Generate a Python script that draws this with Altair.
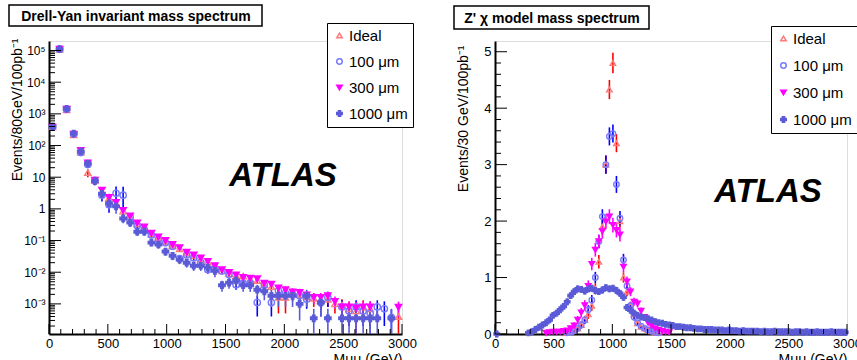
import altair as alt
import pandas as pd

FONT = "Liberation Sans"

SERIES = ["Ideal", "100 \u03bcm", "300 \u03bcm", "1000 \u03bcm"]
MARKER_SHAPE = ["triangle-up", "circle", "triangle-down", "cross"]
MARKER_STROKE = ["#ff7a7a", "#7a7aff", "#ff00ff", "#5b5bd8"]
MARKER_FILL = ["transparent", "transparent", "#ff00ff", "#5b5bd8"]
ERR_COLOR = ["#ff0000", "#0000ff", "#ff00ff", "#5b5bd8"]

# ---------------- Left panel: Drell-Yan (bin centres, GeV) ----------------
dy_mass = list(range(30, 3000, 60))
dy_ideal = [390, 1.1e5, 1350, 220, 62, 14, 8, 3.5, 2.2, 1.5,
            0.85, 0.55, 0.34, 0.25, 0.16, 0.12, 0.095, 0.07, 0.055, 0.04,
            0.033, 0.026, 0.021, 0.015, 0.011, 0.009, 0.0078, 0.0075, 0.006, 0.0055,
            0.004, 0.0035, 0.0016, 0.0016, 0.0022, 0.002, 0.0017, 0.0015, 0.0013, 0.0014,
            0.001, 0.0009, 0.0007, 0.0006, 0.0008, 0.0007, None, None, None, 0.0004]
dy_ideal_err = [20, 300, 40, 15, 8, 4, 2, 1.0, 0.7, 0.5,
                0.2, 0.12, 0.07, 0.05, 0.03, 0.02, 0.015, 0.01, 0.008, 0.006,
                0.005, 0.004, 0.003, 0.0025, 0.002, 0.0017, 0.0015, 0.0015, 0.0013, 0.0012,
                0.001, 0.0009, 0.0011, 0.0011, 0.0008, 0.0008, 0.0007, 0.0007, 0.0006, 0.0006,
                0.0005, 0.0005, 0.0005, 0.0005, 0.0005, 0.0005, None, None, None, 0.0004]
dy_100 = [400, 1.1e5, 1400, 230, 60, 25, 8, 2.7, 1.35, 3.1,
          2.7, 0.55, 0.3, 0.22, 0.15, 0.11, 0.085, 0.065, 0.027, 0.035,
          0.028, 0.02, 0.012, 0.013, 0.011, 0.0085, 0.004, 0.0045, 0.0045, 0.0011,
          0.004, 0.0011, 0.0026, 0.0022, 0.002, 0.0018, 0.0014, None, 0.0011, 0.0016,
          None, 0.0008, 0.0006, 0.0008, 0.0006, 0.0005, 0.0008, 0.0007, 0.00037, None]
dy_100_err = [20, 300, 40, 15, 8, 4, 2, 1.0, 0.6, 2.0,
              2.3, 0.12, 0.07, 0.05, 0.03, 0.02, 0.015, 0.01, 0.006, 0.006,
              0.005, 0.004, 0.003, 0.003, 0.0025, 0.002, 0.0012, 0.0013, 0.0013, 0.0007,
              0.0012, 0.0007, 0.0009, 0.0009, 0.0008, 0.0008, 0.0007, None, 0.0007, 0.0008,
              None, 0.0005, 0.0004, 0.0005, 0.0004, 0.0004, 0.0005, 0.0005, 0.0003, None]
dy_300 = [380, 1.1e5, 1400, 230, 70, 28, 8, 3.9, 2.3, 1.6,
          0.9, 0.6, 0.36, 0.27, 0.17, 0.13, 0.1, 0.075, 0.06, 0.043,
          0.035, 0.028, 0.022, 0.016, 0.012, 0.0098, 0.0082, 0.0068, 0.0065, 0.0062,
          0.0045, 0.0042, 0.0032, 0.0028, 0.0024, 0.0023, 0.0019, 0.0016, 0.0016, 0.0018,
          0.0012, 0.0008, 0.0008, 0.00075, 0.0008, 0.0008, None, None, None, 0.00078]
dy_300_err = [20, 300, 40, 15, 8, 4, 2, 1.0, 0.7, 0.5,
              0.2, 0.12, 0.07, 0.05, 0.03, 0.02, 0.015, 0.01, 0.008, 0.006,
              0.005, 0.004, 0.003, 0.0025, 0.002, 0.0017, 0.0015, 0.0013, 0.0013, 0.0012,
              0.001, 0.001, 0.0008, 0.0008, 0.0007, 0.0007, 0.0006, 0.0006, 0.0006, 0.0006,
              0.0005, 0.0004, 0.0004, 0.0004, 0.0004, 0.0004, None, None, None, 0.0004]
dy_1000 = [390, 1.1e5, 1450, 240, 65, 27, 7.5, 3.0, 1.5, 1.2,
           0.5, 0.37, 0.19, 0.19, 0.086, 0.075, 0.045, 0.033, 0.025, 0.02,
           0.016, 0.016, 0.014, 0.011, 0.0039, 0.0047, 0.0055, 0.0039, 0.0039, 0.0028,
           0.0025, 0.0018, 0.0018, 0.0018, 0.0018, 0.001, 0.0018, 0.00035, 0.0011, 0.00035,
           None, 0.00035, 0.00035, 0.00035, 0.00035, 0.00035, 0.00035, None, 0.00035, None]
dy_1000_err = [20, 300, 40, 15, 8, 4, 2, 1.0, 0.6, 0.5,
               0.15, 0.1, 0.05, 0.05, 0.02, 0.02, 0.012, 0.009, 0.007, 0.006,
               0.005, 0.005, 0.004, 0.004, 0.0015, 0.0017, 0.0018, 0.0015, 0.0015, 0.0012,
               0.0012, 0.001, 0.001, 0.001, 0.001, 0.0007, 0.001, 0.00035, 0.0007, 0.00035,
               None, 0.00035, 0.00035, 0.00035, 0.00035, 0.00035, 0.00035, None, 0.00035, None]

dy_ytick_values = [1e-3, 1e-2, 1e-1, 1, 10, 100, 1e3, 1e4, 1e5]
dy_ytick_labels = ["10\u207b\u00b3", "10\u207b\u00b2", "10\u207b\u00b9", "1", "10",
                   "10\u00b2", "10\u00b3", "10\u2074", "10\u2075"]
mass_ticks = [0, 500, 1000, 1500, 2000, 2500, 3000]

# ---------------- Right panel: Z' chi model ----------------
zp_mass_ideal = list(range(615, 1396, 30))
zp_ideal = [0.02, 0.04, 0.06, 0.1, 0.16, 0.25, 0.35, 0.5, 0.8, 1.28,
            1.9, 3.0, 4.33, 4.8, 3.38, 2.0, 1.0, 0.75, 0.5, 0.35,
            0.19, 0.13, 0.1, 0.07, 0.05, 0.03, 0.02]
zp_ideal_err = [0.02, 0.03, 0.04, 0.05, 0.06, 0.07, 0.08, 0.09, 0.1, 0.12,
                0.14, 0.16, 0.17, 0.18, 0.16, 0.12, 0.09, 0.08, 0.07, 0.06,
                0.04, 0.04, 0.03, 0.03, 0.02, 0.02, 0.02]
zp_mass_100 = list(range(615, 1396, 30))
zp_100 = [0.02, 0.03, 0.06, 0.1, 0.16, 0.25, 0.43, 0.6, 1.0, 1.64,
          2.08, 3.0, 3.5, 3.55, 2.65, 2.05, 1.31, 0.85, 0.5, 0.3,
          0.2, 0.14, 0.1, 0.07, 0.05, 0.03, 0.02]
zp_100_err = [0.02, 0.03, 0.04, 0.05, 0.06, 0.07, 0.08, 0.09, 0.1, 0.12,
              0.13, 0.16, 0.16, 0.16, 0.15, 0.13, 0.11, 0.09, 0.07, 0.06,
              0.05, 0.04, 0.03, 0.03, 0.02, 0.02, 0.02]
zp_mass_300 = list(range(435, 1486, 30))
zp_300 = [0.02, 0.03, 0.04, 0.04, 0.04, 0.05, 0.06, 0.1, 0.15, 0.25,
          0.38, 0.51, 0.85, 1.24, 1.49, 1.64, 1.82, 1.99, 2.08, 1.93,
          1.84, 1.76, 1.19, 0.93, 0.75, 0.57, 0.54, 0.41, 0.3, 0.2,
          0.14, 0.1, 0.07, 0.05, 0.04, 0.03]
zp_300_err = [0.02, 0.02, 0.03, 0.03, 0.03, 0.03, 0.04, 0.05, 0.06, 0.07,
              0.08, 0.09, 0.1, 0.11, 0.12, 0.12, 0.13, 0.13, 0.13, 0.13,
              0.13, 0.12, 0.1, 0.09, 0.08, 0.07, 0.07, 0.06, 0.05, 0.04,
              0.04, 0.03, 0.03, 0.02, 0.02, 0.02]
zp_mass_1000 = [15] + list(range(285, 3000, 30))
zp_1000 = [0.0,
           0.02, 0.04, 0.08, 0.12, 0.16, 0.2, 0.25, 0.33, 0.37, 0.43,
           0.49, 0.57, 0.68, 0.75, 0.8, 0.79, 0.76, 0.8, 0.81, 0.77,
           0.75, 0.78, 0.82, 0.8, 0.81, 0.77, 0.72, 0.65, 0.47, 0.42,
           0.37, 0.33, 0.3, 0.29, 0.27, 0.25, 0.22, 0.2, 0.19, 0.17,
           0.16, 0.15, 0.13, 0.13, 0.12, 0.11, 0.11, 0.1, 0.09, 0.09,
           0.08, 0.08, 0.08, 0.07, 0.07, 0.07, 0.06, 0.07, 0.06, 0.06,
           0.05, 0.06, 0.05, 0.05, 0.05, 0.05, 0.04, 0.05, 0.04, 0.04,
           0.05, 0.04, 0.04, 0.04, 0.04, 0.03, 0.04, 0.04, 0.03, 0.04,
           0.03, 0.03, 0.04, 0.03, 0.03, 0.03, 0.04, 0.03, 0.03, 0.03,
           0.03]
zp_1000_err = [0.0,
               0.02, 0.02, 0.03, 0.03, 0.04, 0.04, 0.04, 0.05, 0.05, 0.05,
               0.05, 0.06, 0.06, 0.06, 0.06, 0.06, 0.06, 0.06, 0.06, 0.06,
               0.06, 0.06, 0.06, 0.06, 0.06, 0.06, 0.06, 0.06, 0.05, 0.05,
               0.05, 0.05, 0.04, 0.04, 0.04, 0.04, 0.04, 0.04, 0.03, 0.03,
               0.03, 0.03, 0.03, 0.03, 0.03, 0.03, 0.03, 0.03, 0.03, 0.03,
               0.02, 0.02, 0.02, 0.02, 0.02, 0.02, 0.02, 0.02, 0.02, 0.02,
               0.02, 0.02, 0.02, 0.02, 0.02, 0.02, 0.02, 0.02, 0.02, 0.02,
               0.02, 0.02, 0.02, 0.02, 0.02, 0.02, 0.02, 0.02, 0.02, 0.02,
               0.02, 0.02, 0.02, 0.02, 0.02, 0.02, 0.02, 0.02, 0.02, 0.02,
               0.02]
zp_ytick_values = [0, 1, 2, 3, 4, 5]


def long_df(masses, values, errors, floor):
    rows = []
    for i, (s, ms, vs, es) in enumerate(zip(SERIES, masses, values, errors)):
        for m, v, e in zip(ms, vs, es):
            if v is None:
                continue
            e = e or 0
            rows.append({"series": s, "ord": i, "mass": m, "val": v,
                         "lo": max(v - e, floor), "hi": v + e})
    return pd.DataFrame(rows)


def make_legend(lx, ly, pad, rowpad):
    return alt.Legend(title=None, orient="none", legendX=lx, legendY=ly,
                      strokeColor="black", fillColor="white", padding=pad,
                      rowPadding=rowpad, labelFont=FONT, labelFontSize=15,
                      labelColor="black", labelOffset=2, symbolSize=30,
                      symbolStrokeWidth=1.5, cornerRadius=0)


def panel(df, W, H, xscale, yscale, xaxis, yaxis, legend, psize,
          ymaj, ymin, xmaj, xmin, title_text, box, title_pos, atlas_pos):
    base = alt.Chart(df)
    errs = []
    for s, c in zip(SERIES, ERR_COLOR):
        errs.append(base.transform_filter(alt.datum.series == s).mark_rule(
            strokeWidth=1.6, color=c).encode(
            x=alt.X("mass:Q", scale=xscale, axis=xaxis),
            y=alt.Y("lo:Q", scale=yscale, axis=yaxis),
            y2="hi:Q"))
    pts = base.mark_point(size=psize, strokeWidth=1.4, opacity=1).encode(
        x=alt.X("mass:Q", scale=xscale, axis=xaxis),
        y=alt.Y("val:Q", scale=yscale, axis=yaxis),
        shape=alt.Shape("series:N", scale=alt.Scale(domain=SERIES, range=MARKER_SHAPE), legend=legend),
        stroke=alt.Stroke("series:N", scale=alt.Scale(domain=SERIES, range=MARKER_STROKE), legend=legend),
        fill=alt.Fill("series:N", scale=alt.Scale(domain=SERIES, range=MARKER_FILL), legend=legend),
        order=alt.Order("ord:Q"),
    )

    def yt(vals, ln):
        return alt.Chart(pd.DataFrame({"v": vals})).mark_rule(color="black", strokeWidth=1).encode(
            y=alt.Y("v:Q", scale=yscale, axis=yaxis), x=alt.value(0), x2=alt.value(ln))

    def xt(vals, ln):
        return alt.Chart(pd.DataFrame({"v": vals})).mark_rule(color="black", strokeWidth=1).encode(
            x=alt.X("v:Q", scale=xscale, axis=xaxis), y=alt.value(H), y2=alt.value(H - ln))

    tdf = pd.DataFrame({"t": [title_text]})
    rect = alt.Chart(tdf).mark_rect(fill="white", stroke="black", strokeWidth=1.5).encode(
        x=alt.value(box[0]), x2=alt.value(box[1]), y=alt.value(box[2]), y2=alt.value(box[3]))
    ttxt = alt.Chart(tdf).mark_text(font=FONT, fontSize=14, fontWeight="bold", color="black",
                                    align="center", baseline="alphabetic").encode(
        x=alt.value(title_pos[0]), y=alt.value(title_pos[1]), text="t:N")
    adf = pd.DataFrame({"t": ["ATLAS"]})
    atlas = alt.Chart(adf).mark_text(font=FONT, fontSize=33, fontWeight="bold", fontStyle="italic",
                                     color="black", align="center", baseline="alphabetic").encode(
        x=alt.value(atlas_pos[0]), y=alt.value(atlas_pos[1]), text="t:N")

    return alt.layer(*errs, pts, yt(ymaj, 12), yt(ymin, 6), xt(xmaj, 10), xt(xmin, 5),
                     rect, ttxt, atlas).properties(width=W, height=H)


H = 293
LOG_MIN, LOG_MAX = 1.12e-4, 2.0e5

dy_df = long_df([dy_mass] * 4, [dy_ideal, dy_100, dy_300, dy_1000],
                [dy_ideal_err, dy_100_err, dy_300_err, dy_1000_err], LOG_MIN * 1.02)
zp_df = long_df([zp_mass_ideal, zp_mass_100, zp_mass_300, zp_mass_1000],
                [zp_ideal, zp_100, zp_300, zp_1000],
                [zp_ideal_err, zp_100_err, zp_300_err, zp_1000_err], 0)

label_expr = " : ".join("datum.value == %r ? '%s'" % (v, l)
                        for v, l in zip(dy_ytick_values, dy_ytick_labels)) + " : ''"

xaxis_common = dict(values=mass_ticks, format="d", ticks=False, tickSize=0, labelPadding=3,
                    labelFont=FONT, labelFontSize=13, labelColor="black", labelFlush=False,
                    title="M\u03bc\u03bc  (GeV)", titleAnchor="end", titleFont=FONT,
                    titleFontSize=14, titleFontWeight="normal", titleColor="black",
                    titlePadding=2, domainColor="black", domainWidth=2, grid=False)

dy_yaxis = alt.Axis(values=dy_ytick_values, labelExpr=label_expr, ticks=False, tickSize=0,
                    labelPadding=4, labelFont=FONT, labelFontSize=12, labelColor="black",
                    title="Events/80GeV/100pb\u207b\u00b9", titleFont=FONT, titleFontSize=14,
                    titleFontWeight="normal", titleColor="black", titleAngle=270,
                    titleX=-32, titleY=-3, titleAlign="right", titleBaseline="middle",
                    domainColor="black", domainWidth=2, grid=False)
zp_yaxis = alt.Axis(values=zp_ytick_values, ticks=False, tickSize=0,
                    labelPadding=4, labelFont=FONT, labelFontSize=13, labelColor="black",
                    title="Events/30 GeV/100pb\u207b\u00b9", titleFont=FONT, titleFontSize=14,
                    titleFontWeight="normal", titleColor="black", titleAngle=270,
                    titleX=-32, titleY=4, titleAlign="right", titleBaseline="middle",
                    domainColor="black", domainWidth=2, grid=False)

x_minor = [m for m in range(100, 3000, 100) if m % 500]
dy_ymin = [k * 10.0 ** n for n in range(-4, 6) for k in range(2, 10)
           if LOG_MIN < k * 10.0 ** n < LOG_MAX]
zp_ymin = [round(0.2 * i, 1) for i in range(1, 26) if i % 5]

left = panel(dy_df, 353, H,
             alt.Scale(domain=[0, 3000], nice=False),
             alt.Scale(type="log", domain=[LOG_MIN, LOG_MAX], nice=False),
             alt.Axis(**xaxis_common), dy_yaxis,
             make_legend(278, -18, 5, 10), 40,
             dy_ytick_values, dy_ymin, mass_ticks, x_minor,
             "Drell-Yan invariant mass spectrum", (-40, 213, -36, -15), (87, -20), (234, 145))

right = panel(zp_df, 352, H,
              alt.Scale(domain=[0, 3000], nice=False),
              alt.Scale(domain=[0, 5.19], nice=False, zero=False),
              alt.Axis(**xaxis_common), zp_yaxis,
              make_legend(276, -15, 5, 11), 30,
              zp_ytick_values, zp_ymin, mass_ticks, x_minor,
              "Z' \u03c7 model mass spectrum", (-41, 154, -35, -12), (57, -18), (273, 161))

# Fixed page: plot origin at (49, 41); whole page 857 x 360, overflow clipped.
chart = alt.hconcat(left, right, spacing=93, bounds="flush",
                    autosize=alt.AutoSizeParams(type="none"),
                    padding={"left": 49, "top": 41, "right": 808, "bottom": 319}).resolve_scale(
    x="independent", y="independent", shape="independent",
    stroke="independent", fill="independent").resolve_legend(
    shape="independent", stroke="independent", fill="independent"
).configure_view(stroke="black", strokeWidth=1.5).configure(background="white")

chart.save("out.html", embed_options={"renderer": "svg", "actions": False})
